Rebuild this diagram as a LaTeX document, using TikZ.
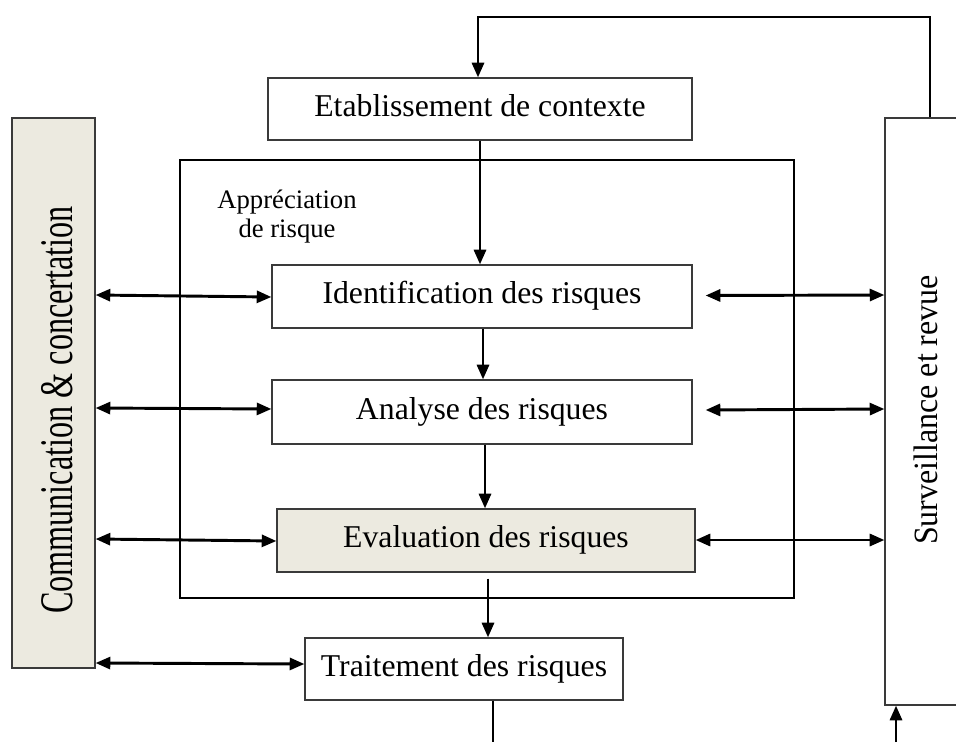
\documentclass[tikz,border=0pt]{standalone}
\usepackage{fontspec}
\setmainfont{Liberation Serif}
\newfontfamily\narrowserif[FakeStretch=0.69]{Liberation Serif}
\newfontfamily\slimserif[FakeStretch=0.94]{Liberation Serif}
\usetikzlibrary{arrows.meta,calc}
\definecolor{beige}{HTML}{ECEAE0}
\definecolor{edge}{HTML}{3A3A3A}
\tikzset{
  stepbox/.style={draw=edge, line width=0.9pt, rectangle, inner sep=0pt,
    font=\fontsize{23.8}{28}\selectfont, text height=16pt, text depth=5pt},
  sidebar/.style={draw=edge, line width=0.9pt, rectangle, inner sep=0pt, fill=beige},
  frame/.style={draw=black, line width=2.2pt, rectangle, inner sep=0pt},
  flow/.style={line width=2.2pt, -{Triangle[length=11pt,width=9pt]}},
  link/.style={line width=2.2pt, {Triangle[length=11pt,width=9pt]}-{Triangle[length=11pt,width=9pt]}},
  plain/.style={line width=2.2pt}
}
\begin{document}
\begin{tikzpicture}[x=0.75pt,y=-0.75pt]
\useasboundingbox (0,0) rectangle (956,742);
\clip (0,0) rectangle (956,742);

% outer frame of the assessment stage
\node[frame, minimum width=614*0.75pt, minimum height=438*0.75pt] (assess) at (487,379) {};
\node[font=\fontsize{20}{21.75}\selectfont, align=center, anchor=base] (assesslbl) at (287,237) {Appréciation\\de risque};

% process steps
\node[stepbox, minimum width=424*0.75pt, minimum height=62*0.75pt] (etab) at (480,109) {Etablissement de contexte};
\node[stepbox, minimum width=420*0.75pt, minimum height=63*0.75pt] (ident) at (482,296.5) {Identification des risques};
\node[stepbox, minimum width=420*0.75pt, minimum height=64*0.75pt] (anal) at (482,412) {Analyse des risques};
\node[stepbox, fill=beige, minimum width=418*0.75pt, minimum height=63*0.75pt] (eval) at (486,540.5) {Evaluation des risques};
\node[stepbox, minimum width=318*0.75pt, minimum height=62*0.75pt] (trait) at (464,669) {Traitement des risques};

% side bars
\node[sidebar, minimum width=83*0.75pt, minimum height=550*0.75pt] (comm) at (53.5,393) {};
\node[rotate=90, anchor=base, font=\narrowserif\fontsize{35}{40}\selectfont] (commlbl) at (72,410) {Communication \& concertation};
\node[draw=edge, line width=0.9pt, rectangle, inner sep=0pt, fill=white, minimum width=90*0.75pt, minimum height=587*0.75pt] (surv) at (930,411.5) {};
\node[rotate=90, anchor=base, font=\slimserif\fontsize{25.5}{30}\selectfont] (survlbl) at (937,410) {Surveillance et revue};

% main flow
\draw[flow] (etab.south -| 480,0) -- (ident.north -| 480,0);
\draw[flow] (ident.south -| 483,0) -- (anal.north -| 483,0);
\draw[flow] (anal.south -| 485,0) -- (eval.north -| 485,0);
\draw[flow, shorten <=4.5pt] (eval.south -| 488,0) -- (trait.north -| 488,0);

% feedback loop over the top
\coordinate (loopR) at (930,17);
\coordinate (loopL) at (478,17);
\draw[flow] (surv.north -| loopR) -- (loopR) -- (loopL) -- (etab.north -| loopL);

% lines leaving the bottom edge
\coordinate (outT) at (493,742);
\coordinate (inS) at (896,742);
\draw[plain] (trait.south -| outT) -- (outT);
\draw[flow] (inS) -- (surv.south -| inS);

% communication links
\draw[link] (comm.east |- 0,295) -- (ident.west |- 0,297);
\draw[link] (comm.east |- 0,408) -- (anal.west |- 0,409);
\draw[link] (comm.east |- 0,539) -- (eval.west |- 0,541);
\draw[link] (comm.east |- 0,663) -- (trait.west |- 0,664);

% monitoring links
\draw[link] ($(ident.east)+(13,-1)$) -- (surv.west |- 0,295);
\draw[link] ($(anal.east)+(13,-2)$) -- (surv.west |- 0,409);
\draw[link] (eval.east |- 0,540) -- (surv.west |- 0,540);
\end{tikzpicture}
\end{document}
